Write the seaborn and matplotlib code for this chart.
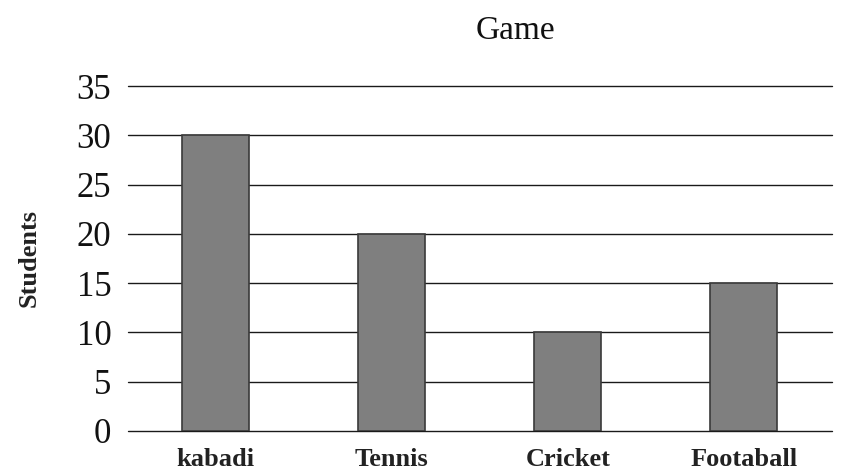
import pandas as pd
import seaborn as sns
import matplotlib.pyplot as plt

# --- данные ---
games = ["kabadi", "Tennis", "Cricket", "Footaball"]
students = [30, 20, 10, 15]
y_ticks = [0, 5, 10, 15, 20, 25, 30, 35]

df = pd.DataFrame({"Game": games, "Students": students})

sns.set_theme(style="white")
plt.rcParams["font.family"] = ["Liberation Serif", "DejaVu Serif"]

fig = plt.figure(figsize=(8.53, 4.73), dpi=100)
ax = fig.add_axes([0.150, 0.089, 0.825, 0.729])

ax.set_axisbelow(True)
for t in y_ticks:
    ax.axhline(t, color="#1a1a1a", linewidth=1.0, zorder=0, clip_on=False)

sns.barplot(data=df, x="Game", y="Students", order=games, color="#7f7f7f",
            saturation=1, width=0.38, edgecolor="#3a3a3a", linewidth=1.2, ax=ax)

ax.set_ylim(0, 35)
ax.set_yticks(y_ticks)
ax.set_yticklabels([str(t) for t in y_ticks], fontsize=25, color="#111111")
ax.set_xticks(range(len(games)))
ax.set_xticklabels(games, fontsize=19, fontweight="bold", color="#222222")
ax.tick_params(axis="y", length=0, pad=12)
ax.tick_params(axis="x", length=0, pad=12)

for side in ["top", "right", "left", "bottom"]:
    ax.spines[side].set_visible(False)

ax.set_xlabel("")
ax.set_ylabel("Students", fontsize=19, fontweight="bold", color="#222222", labelpad=26)
ax.set_title("Game", fontsize=24, color="#111111", x=0.55, pad=34)

fig.savefig("out.png", dpi=100)
